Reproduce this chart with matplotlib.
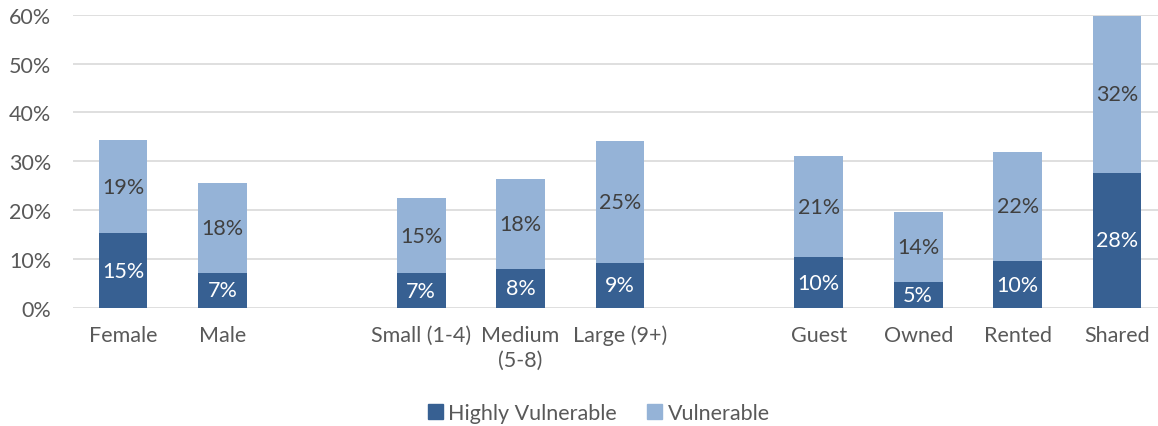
import matplotlib
matplotlib.use("Agg")
import matplotlib.pyplot as plt
from matplotlib.patches import Patch
from matplotlib.ticker import FuncFormatter

categories = ["Female", "Male", "Small (1-4)", "Medium\n(5-8)", "Large (9+)",
              "Guest", "Owned", "Rented", "Shared"]
slots = [0, 1, 3, 4, 5, 7, 8, 9, 10]
highly = [15.3, 7.2, 7.1, 8.0, 9.3, 10.4, 5.3, 9.6, 27.7]
vulnerable = [19.0, 18.4, 15.4, 18.4, 24.9, 20.6, 14.3, 22.4, 32.1]
series_names = ["Highly Vulnerable", "Vulnerable"]
yticks = [0, 10, 20, 30, 40, 50, 60]

dark = "#376092"
light = "#95B3D7"
textc = "#595959"
FS = 15.5

plt.rcParams['font.family'] = ['Lato', 'DejaVu Sans']

W, H = 1158, 427
fig = plt.figure(figsize=(W / 100, H / 100), dpi=100)
left = 73.3 / W
bottom = (H - 309) / H
height = 293.3 / H
width = 11 * 99.4 / W
ax = fig.add_axes([left, bottom, width, height])

bw = 0.49
ax.bar(slots, highly, width=bw, color=dark, zorder=3)
ax.bar(slots, vulnerable, width=bw, bottom=highly, color=light, zorder=3)

for x, h, v in zip(slots, highly, vulnerable):
    ax.text(x, h / 2, f"{round(h)}%", ha="center", va="center", color="white",
            fontsize=FS, zorder=4)
    ax.text(x, h + v / 2, f"{round(v)}%", ha="center", va="center", color="#404040",
            fontsize=FS, zorder=4)

ax.set_xlim(-0.5, 10.5)
ax.set_ylim(0, 60)
ax.set_yticks(yticks)
ax.yaxis.set_major_formatter(FuncFormatter(lambda v, p: f"{int(v)}%"))
ax.set_xticks(slots)
ax.set_xticklabels(categories, linespacing=1.3)
ax.tick_params(axis="both", length=0, labelsize=FS, colors=textc)
ax.tick_params(axis="y", pad=16)
ax.tick_params(axis="x", pad=12)
ax.grid(axis="y", color="#D9D9D9", linewidth=1.2, zorder=0)
for s in ax.spines.values():
    s.set_visible(False)

handles = [Patch(color=dark), Patch(color=light)]
fig.legend(handles, series_names, loc="center", bbox_to_anchor=(599 / W, 1 - 414 / H),
           ncol=2, frameon=False, fontsize=FS, handlelength=0.7, handleheight=0.7,
           handletextpad=0.25, columnspacing=1.4, labelcolor=textc,
           borderpad=0, borderaxespad=0)

fig.savefig("out.png", dpi=100)
